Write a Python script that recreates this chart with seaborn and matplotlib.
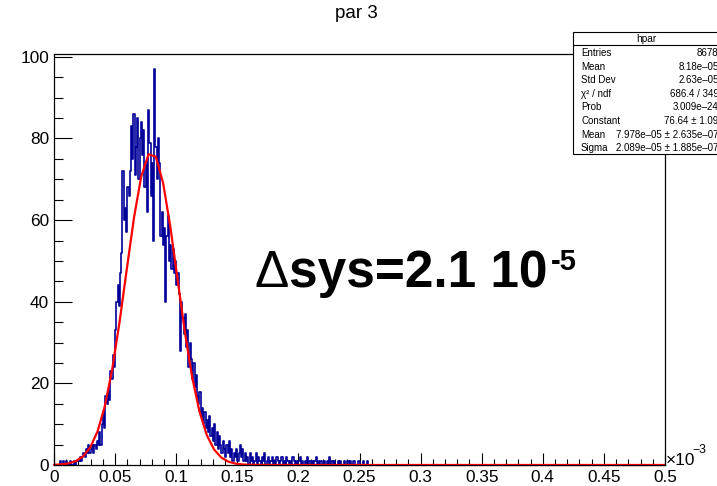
import numpy as np
import pandas as pd
import matplotlib
matplotlib.use("Agg")
import matplotlib.pyplot as plt
import seaborn as sns
from matplotlib.patches import Rectangle
from matplotlib.lines import Line2D
from matplotlib.ticker import MultipleLocator

# ---------------- data ----------------
title = "par 3"
hist_lo, hist_hi, n_bins = 0.0, 0.5, 500          # x in units of 1e-3
counts_lead = [0, 0, 0, 0, 0, 1, 0, 1, 0, 0, 1, 0, 0, 1, 0, 0, 1, 0, 1, 1]           # bins 0-19
counts_rise = [1, 2, 1, 2, 3, 2, 4, 3, 5, 3, 4, 5, 3, 5, 4, 6, 5, 8, 5, 10,
               13, 9, 17, 15, 18, 16, 23, 21, 27, 24]                                    # bins 20-49
counts_peak = [33, 40, 44, 39, 47, 52, 72, 60, 63, 57, 68, 66, 72, 83, 75, 86, 71, 78, 85, 70,
               80, 84, 76, 82, 68, 74, 62, 87, 79, 66, 74, 55, 97, 78, 70, 80, 74, 56, 62, 54,
               58, 40, 56, 61, 50, 54, 48, 53, 47, 50, 44, 47, 42]                        # bins 50-102
counts_fall = [28, 40, 36, 32, 37, 29, 33, 24, 30, 26, 21, 25, 19, 22, 17, 15, 18, 12, 14, 10,
               13, 9, 11, 8, 12, 7, 9, 6, 10, 5, 8, 4, 7, 5, 3, 6, 4, 2, 5, 3,
               6, 2, 4, 1, 3, 2, 4, 1, 3, 5, 2, 4, 1, 3, 1, 2, 0]                         # bins 103-159
counts_tail = [3, 1, 2, 0, 1, 3, 0, 2, 1, 0, 2, 1, 3, 0, 1, 2, 0, 1, 2, 0,
               1, 0, 2, 1, 0, 1, 2, 0, 1, 0, 2, 1, 0, 1, 0, 2, 1, 0, 1, 0,
               1, 2, 0, 1, 0, 1, 0, 2, 0, 1, 0, 1, 0, 1, 2, 0, 1, 0, 1, 0,
               0, 1, 0, 1, 0, 2, 0, 1, 0, 1, 0, 0, 1, 0, 1, 0, 0, 1, 0, 0,
               1, 0, 1, 0, 0, 1, 0, 0, 0, 1, 0, 0, 0, 1, 0, 0, 1]                        # bins 160-256

fit_const, fit_mean, fit_sigma = 76.64, 0.07978, 0.02089   # x in units of 1e-3

x_tick_vals = [0, 0.05, 0.1, 0.15, 0.2, 0.25, 0.3, 0.35, 0.4, 0.45, 0.5]
x_tick_labels = ["0", "0.05", "0.1", "0.15", "0.2", "0.25", "0.3", "0.35", "0.4", "0.45", "0.5"]
y_tick_vals = [0, 20, 40, 60, 80, 100]
y_tick_labels = ["0", "20", "40", "60", "80", "100"]
y_max = 100.7

stat_title = "hpar"
stat_labels = ["Entries", "Mean", "Std Dev", "χ² / ndf", "Prob", "Constant", "Mean", "Sigma"]
stat_values = ["8678", "8.18e–05", "2.63e–05", "686.4 / 349", "3.009e–24", "76.64 ± 1.09",
               "7.978e–05 ± 2.635e–07", "2.089e–05 ± 1.885e–07"]

annot_main = "sys=2.1 10"
annot_exp = "-5"

# ---------------- build ----------------
counts = counts_lead + counts_rise + counts_peak + counts_fall + counts_tail
counts = counts + [0] * (n_bins - len(counts))
width = (hist_hi - hist_lo) / n_bins
centers = hist_lo + width * (np.arange(n_bins) + 0.5)
df = pd.DataFrame({"x": centers, "n": counts})

xf = np.linspace(hist_lo, hist_hi, 85)
yf = fit_const * np.exp(-0.5 * ((xf - fit_mean) / fit_sigma) ** 2)
dff = pd.DataFrame({"x": xf, "y": yf})

sns.set_style("white")
plt.rcParams["font.family"] = ["Liberation Sans", "DejaVu Sans"]
plt.rcParams["text.color"] = "black"
plt.rcParams["xtick.color"] = "black"
plt.rcParams["ytick.color"] = "black"
plt.rcParams["xtick.labelcolor"] = "black"
plt.rcParams["ytick.labelcolor"] = "black"

W, H = 717, 486
fig = plt.figure(figsize=(W / 100, H / 100), dpi=100)


def P(x, y):
    return (x / W, 1 - y / H)


ax_l, ax_r, ax_t, ax_b = 54, 665, 54, 465
ax = fig.add_axes([ax_l / W, 1 - ax_b / H, (ax_r - ax_l) / W, (ax_b - ax_t) / H])

HBLUE = "#000099"
sns.histplot(data=df, x="x", weights="n", bins=n_bins, binrange=(hist_lo, hist_hi),
             element="step", fill=False, color=HBLUE, linewidth=1.2, ax=ax)
sns.lineplot(data=dff, x="x", y="y", color="#ff0000", linewidth=1.6, ax=ax,
             estimator=None, sort=False, clip_on=False)

ax.set_xlim(hist_lo, hist_hi)
ax.set_ylim(0, y_max)
ax.set_xlabel("")
ax.set_ylabel("")
ax.set_xticks(x_tick_vals)
ax.set_xticklabels(x_tick_labels)
ax.set_yticks(y_tick_vals)
ax.set_yticklabels(y_tick_labels)
ax.xaxis.set_minor_locator(MultipleLocator(0.01))
ax.yaxis.set_minor_locator(MultipleLocator(5))
ax.tick_params(axis="x", which="major", direction="in", length=8.8, width=0.8, pad=3.5,
               labelsize=12.4, colors="black", bottom=True, top=False)
ax.tick_params(axis="x", which="minor", direction="in", length=4.4, width=0.8,
               colors="black", bottom=True, top=False)
ax.tick_params(axis="y", which="major", direction="in", length=13.2, width=0.8, pad=3.5,
               labelsize=12.4, colors="black", left=True, right=False)
ax.tick_params(axis="y", which="minor", direction="in", length=6.6, width=0.8,
               colors="black", left=True, right=False)
for s in ax.spines.values():
    s.set_visible(True)
    s.set_color("black")
    s.set_linewidth(0.9)
ax.set_facecolor("white")

# title
fig.text(*P(356, 18), title, ha="center", va="baseline", fontsize=13.5, color="black")

# x10^-3
fig.text(*P(666, 465), "×10", ha="left", va="baseline", fontsize=12.4, color="black")
fig.text(*P(692, 453), "−3", ha="left", va="baseline", fontsize=8.8, color="black")

# big annotation
t_delta = fig.text(*P(255, 287), "Δ", ha="left", va="baseline", fontsize=37, color="black")
t_main = ax.annotate(annot_main, xy=(1.0, 0.0), xycoords=t_delta, xytext=(0, 0),
                     textcoords="offset points", ha="left", va="bottom", color="black",
                     fontsize=37, fontweight="bold", annotation_clip=False)
ax.annotate(annot_exp, xy=(1.0, 1.0), xycoords=t_main, xytext=(2, 1),
            textcoords="offset points", ha="left", va="top", color="black",
            fontsize=21, fontweight="bold", annotation_clip=False)

# stats box
bx0, by0, bx1, by1 = 573, 32, 720, 154
fig.add_artist(Rectangle(P(bx0, by1), (bx1 - bx0) / W, (by1 - by0) / H,
                         transform=fig.transFigure, facecolor="white", edgecolor="black",
                         linewidth=0.8, zorder=5))
fig.add_artist(Line2D([bx0 / W, bx1 / W], [1 - 45 / H, 1 - 45 / H],
                      transform=fig.transFigure, color="black", linewidth=0.8, zorder=6))
fig.text(*P(646, 39), stat_title, ha="center", va="center", fontsize=7.3, zorder=7)
row_y0, row_dy = 53, 13.6
for i, (lab, val) in enumerate(zip(stat_labels, stat_values)):
    yy = row_y0 + i * row_dy
    fig.text(*P(581, yy), lab, ha="left", va="center", fontsize=7.0, zorder=7)
    fig.text(*P(718.5, yy), val, ha="right", va="center", fontsize=7.0, zorder=7)

fig.savefig("out.png", dpi=100, facecolor="white")
